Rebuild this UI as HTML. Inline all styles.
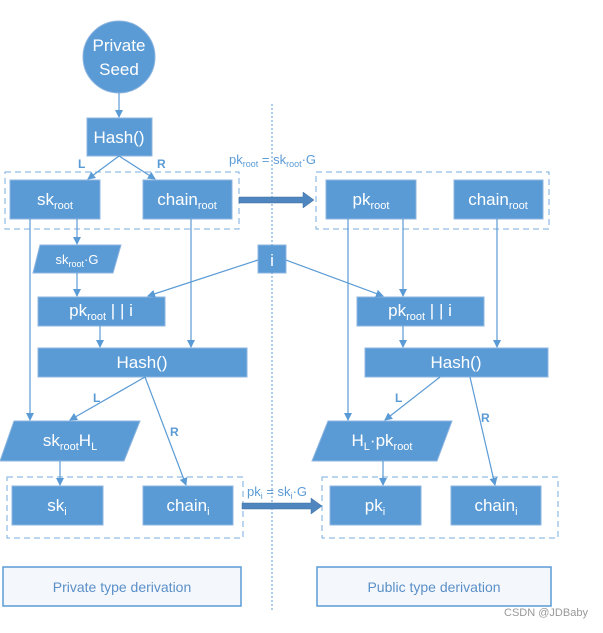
<!DOCTYPE html>
<html><head><meta charset="utf-8"><style>
body{margin:0;background:#fff}
svg text{font-family:"Liberation Sans",sans-serif}
.s{baseline-shift:-4px}
.t{baseline-shift:-3px}
</style></head><body>
<svg width="603" height="628" viewBox="0 0 603 628" xmlns="http://www.w3.org/2000/svg">
<defs>
<marker id="a" markerWidth="8" markerHeight="8" refX="7" refY="4" orient="auto" markerUnits="userSpaceOnUse">
<path d="M0,0 L8,4 L0,8 z" fill="#5b9bd5"/></marker>
</defs>
<g fill="#5b9bd5" stroke="#8db5e0" stroke-width="1">
<circle cx="119" cy="57" r="36"/>
<rect x="87" y="118" width="65" height="38"/>
<rect x="10" y="180" width="90" height="39"/>
<rect x="143" y="180" width="89" height="39"/>
<rect x="326" y="180" width="90" height="39"/>
<rect x="454" y="180" width="89" height="39"/>
<polygon points="40,245 121,245 113,273 33,273"/>
<rect x="258" y="245" width="28" height="28"/>
<rect x="38" y="297" width="127" height="29"/>
<rect x="357" y="297" width="127" height="29"/>
<rect x="38" y="348" width="209" height="29"/>
<rect x="365" y="348" width="183" height="29"/>
<polygon points="14,421 140,421 124,461 0,461"/>
<polygon points="328,421 452,421 437,461 312,461"/>
<rect x="12" y="486" width="91" height="39"/>
<rect x="143" y="486" width="90" height="39"/>
<rect x="330" y="486" width="91" height="39"/>
<rect x="451" y="486" width="90" height="39"/>
</g>
<g fill="none" stroke="#7aaee0" stroke-dasharray="6,4">
<rect x="5" y="172" width="234" height="57"/>
<rect x="316" y="172" width="233" height="57"/>
<rect x="7" y="477" width="236" height="61"/>
<rect x="322" y="477" width="236" height="61"/>
</g>
<line x1="272" y1="104" x2="272" y2="612" stroke="#5b9bd5" stroke-dasharray="2,2"/>
<g fill="none" stroke="#5b9bd5" stroke-width="1.2" marker-end="url(#a)">
<line x1="119" y1="93" x2="119" y2="117"/>
<line x1="119" y1="156" x2="88" y2="179"/>
<line x1="119" y1="156" x2="155" y2="179"/>
<line x1="30" y1="219" x2="30" y2="420"/>
<line x1="77" y1="219" x2="77" y2="244"/>
<line x1="77" y1="273" x2="77" y2="296"/>
<line x1="191" y1="219" x2="191" y2="347"/>
<line x1="258" y1="260" x2="148" y2="296"/>
<line x1="286" y1="260" x2="383" y2="296"/>
<line x1="348" y1="219" x2="348" y2="420"/>
<line x1="403" y1="219" x2="403" y2="296"/>
<line x1="497" y1="219" x2="497" y2="347"/>
<line x1="100" y1="326" x2="100" y2="347"/>
<line x1="403" y1="326" x2="403" y2="347"/>
<line x1="145" y1="377" x2="70" y2="420"/>
<line x1="145" y1="377" x2="186" y2="485"/>
<line x1="440" y1="377" x2="385" y2="420"/>
<line x1="470" y1="377" x2="495" y2="485"/>
<line x1="60" y1="461" x2="60" y2="485"/>
<line x1="383" y1="461" x2="383" y2="485"/>
</g>
<g fill="#4f86c0" stroke="#41719c" stroke-width="0.5">
<polygon points="239,197 303,197 303,192 314,200 303,208 303,203 239,203"/>
<polygon points="242,503 311,503 311,498 322,506 311,514 311,509 242,509"/>
</g>
<g fill="#fff" font-size="17" text-anchor="middle">
<text x="119" y="51">Private</text><text x="119" y="75">Seed</text>
<text x="119" y="143">Hash()</text>
<text x="55" y="205">sk<tspan font-size="11" class="s">root</tspan></text>
<text x="187" y="205">chain<tspan font-size="11" class="s">root</tspan></text>
<text x="371" y="205">pk<tspan font-size="11" class="s">root</tspan></text>
<text x="498" y="205">chain<tspan font-size="11" class="s">root</tspan></text>
<text x="77" y="264" font-size="13">sk<tspan font-size="9" class="t">root</tspan>·G</text>
<text x="272" y="266">i</text>
<text x="101" y="316">pk<tspan font-size="11" class="s">root</tspan> | | i</text>
<text x="420" y="316">pk<tspan font-size="11" class="s">root</tspan> | | i</text>
<text x="142" y="368">Hash()</text>
<text x="456" y="368">Hash()</text>
<text x="70" y="446">sk<tspan font-size="11" class="s">root</tspan>H<tspan font-size="11" class="s">L</tspan></text>
<text x="382" y="446">H<tspan font-size="11" class="s">L</tspan>·pk<tspan font-size="11" class="s">root</tspan></text>
<text x="57" y="511">sk<tspan font-size="11" class="s">i</tspan></text>
<text x="188" y="511">chain<tspan font-size="11" class="s">i</tspan></text>
<text x="375" y="511">pk<tspan font-size="11" class="s">i</tspan></text>
<text x="496" y="511">chain<tspan font-size="11" class="s">i</tspan></text>
</g>
<g fill="#5b9bd5" font-size="12" font-weight="bold">
<text x="78" y="168">L</text><text x="157" y="168">R</text>
<text x="93" y="402">L</text><text x="170" y="436">R</text>
<text x="395" y="402">L</text><text x="481" y="422">R</text>
</g>
<g fill="#5b9bd5" font-size="13">
<text x="229" y="164">pk<tspan font-size="9" class="t">root</tspan> = sk<tspan font-size="9" class="t">root</tspan>·G</text>
<text x="247" y="496">pk<tspan font-size="9" class="t">i</tspan> = sk<tspan font-size="9" class="t">i</tspan>·G</text>
</g>
<g fill="#f4f8fc" stroke="#5b9bd5" stroke-width="1.5">
<rect x="3" y="567" width="238" height="39"/>
<rect x="317" y="567" width="234" height="39"/>
</g>
<g fill="#5b8fc8" font-size="14" text-anchor="middle">
<text x="122" y="592">Private type derivation</text>
<text x="434" y="592">Public type derivation</text>
</g>
<text x="546" y="616" font-size="11" fill="#999" text-anchor="middle">CSDN @JDBaby</text>
</svg>
</body></html>
